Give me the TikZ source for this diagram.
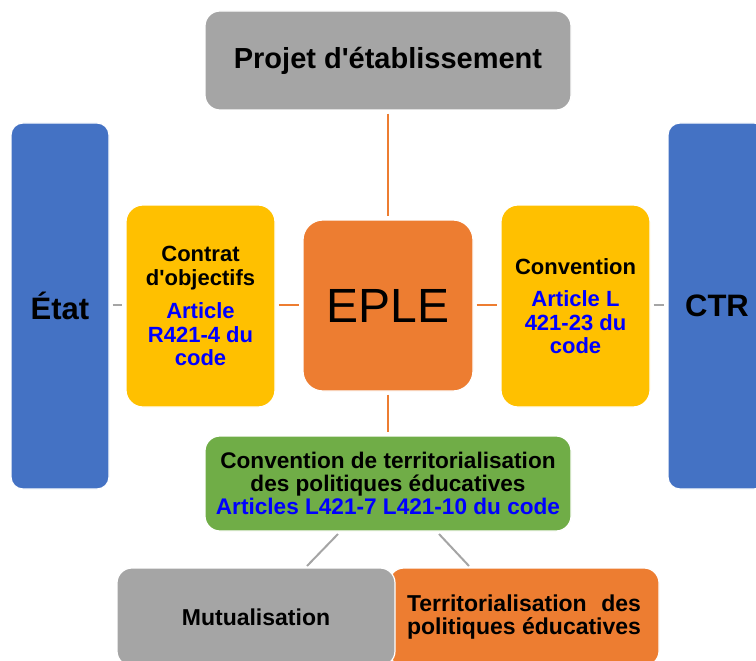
\documentclass[tikz,border=0pt]{standalone}
\usepackage{fontspec}
\setmainfont{Liberation Sans}
\definecolor{cgray}{HTML}{A5A5A5}
\definecolor{cblue}{HTML}{4472C4}
\definecolor{cyellow}{HTML}{FFC000}
\definecolor{corange}{HTML}{ED7D31}
\definecolor{cgreen}{HTML}{70AD47}
\definecolor{ctext}{HTML}{0000FF}
\begin{document}
\begin{tikzpicture}[x=1pt,y=-1pt,
  box/.style={draw=white,line width=1.2pt,rounded corners=#1,inner sep=0pt,align=center,text=black},
  box/.default=15pt,
  ol/.style={draw=corange,line width=2pt,shorten <=3pt,shorten >=3pt},
  gl/.style={draw=cgray,line width=2pt,shorten <=3pt,shorten >=3pt},
  fa/.style={font=\fontsize{22}{23.5}\selectfont\bfseries},
  fb/.style={font=\fontsize{23}{23.5}\selectfont\bfseries},
  fg/.style={font=\fontsize{22.6}{23.3}\selectfont\bfseries},
  fbig/.style={font=\fontsize{31}{33}\selectfont\bfseries}]
\useasboundingbox (0,0) rectangle (756,661);
\clip (0,0) rectangle (756,661);
% boxes
\node[box, fill=cgray, minimum width=366pt, minimum height=99pt,
  font=\fontsize{29}{31}\selectfont\bfseries] (top) at (388,60.5) {Projet d\textquotesingle établissement};
\node[box=12pt, fill=cblue, minimum width=98pt, minimum height=366pt, fbig] (etat) at (60,306) {État};
\node[box=12pt, fill=cblue, minimum width=98pt, minimum height=366pt, fbig] (ctr) at (717,306) {CTR};
\node[box=17pt, fill=cyellow, minimum width=149pt, minimum height=202pt, fa] (yl) at (200.5,306)
  {Contrat\\d\textquotesingle objectifs\\[10pt]\textcolor{ctext}{Article}\\\textcolor{ctext}{R421-4 du}\\\textcolor{ctext}{code}};
\node[box=20pt, fill=corange, minimum width=170pt, minimum height=171pt,
  font=\fontsize{48}{50}\selectfont] (eple) at (388,305.5) {EPLE};
\node[box=17pt, fill=cyellow, minimum width=149pt, minimum height=202pt, fa] (yr) at (575.5,306)
  {Convention\\[9pt]\textcolor{ctext}{Article L}\\\textcolor{ctext}{421-23 du}\\\textcolor{ctext}{code}};
\node[box, fill=cgreen, minimum width=366pt, minimum height=95pt, fg] (green) at (388,483.5)
  {Convention de territorialisation\\des politiques éducatives\\\textcolor{ctext}{Articles L421-7 L421-10 du code}};
\node[box, fill=corange, minimum width=270pt, minimum height=98pt, fb] (terr) at (524,617)
  {\makebox[234pt][s]{Territorialisation des}\\\makebox[234pt][s]{politiques éducatives}};
\node[box, fill=cgray, minimum width=278pt, minimum height=98pt, fb] (mut) at (256,617) {Mutualisation};
% connectors
\draw[ol] (top.south) -- (eple.north);
\draw[ol] (eple.south) -- (green.north);
\draw[gl] (etat.east |- 0,305) coordinate (e1) -- (yl.west |- 0,305) coordinate (y1);
\draw[ol] (yl.east |- 0,305) coordinate (y2) -- (eple.west |- 0,305) coordinate (p1);
\draw[ol] (eple.east |- 0,305) coordinate (p2) -- (yr.west |- 0,305) coordinate (y3);
\draw[gl] (yr.east |- 0,305) coordinate (y4) -- (ctr.west |- 0,305) coordinate (c1);
\coordinate (gl1) at (338,534);
\coordinate (gl2) at (307,566);
\coordinate (gr1) at (439,534);
\coordinate (gr2) at (469,566);
\draw[gl,shorten <=0pt,shorten >=0pt] (gl1) -- (gl2);
\draw[gl,shorten <=0pt,shorten >=0pt] (gr1) -- (gr2);
\end{tikzpicture}
\end{document}
